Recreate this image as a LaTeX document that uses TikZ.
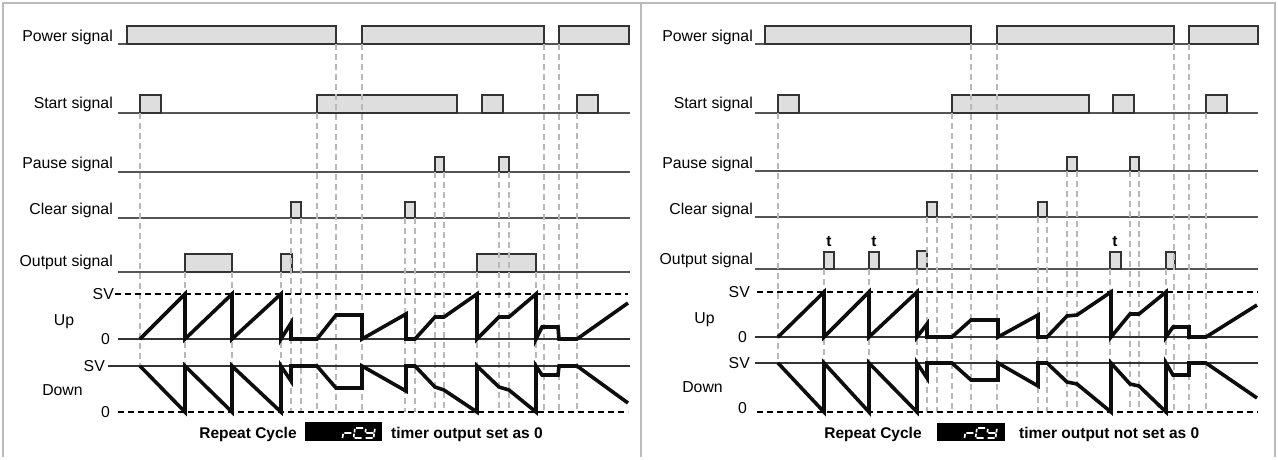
\documentclass[tikz,border=0pt]{standalone}
\usepackage{fontspec}
\setmainfont{Liberation Sans}
\definecolor{sigcol}{HTML}{555555}
\definecolor{pulsefill}{HTML}{DEDEDE}
\definecolor{pulsedraw}{HTML}{333333}
\definecolor{guidecol}{HTML}{B8B8B8}
\definecolor{framecol}{HTML}{BBBBBB}
\newcommand\lblfont{\fontsize{15.8}{18}\selectfont}
\newcommand\boldlbl{\fontsize{15.5}{18}\selectfont\bfseries}
\tikzset{
  sig/.style={draw=sigcol, line width=1.2pt},
  pulse/.style={fill=pulsefill, draw=pulsedraw, line width=1.2pt},
  guide/.style={draw=guidecol, line width=1.4pt, dash pattern=on 6pt off 4pt},
  lvl/.style={draw=black, line width=1.5pt, dash pattern=on 6pt off 4pt},
  zero/.style={draw=black!80, line width=1.1pt},
  wave/.style={draw=black!95, line width=3.6pt},
  lbl/.style={anchor=base east, font=\lblfont, inner sep=0pt},
  clbl/.style={anchor=base, font=\lblfont, inner sep=0pt},
  blbl/.style={anchor=base, font=\boldlbl, inner sep=0pt},
  seg/.style={draw=white, line width=1.7pt},
}
\newcommand\rcyglyphs{%
  \draw[seg] (1,5)--(8,5) (0,5.8)--(0,10);
  \draw[seg] (12,0)--(19,0) (11,0.8)--(11,4.4) (11,5.6)--(11,9.2) (12,10)--(19,10);
  \draw[seg] (22,0.8)--(22,4.4) (31,0.8)--(31,4.4) (23,5)--(30,5) (31,5.6)--(31,9.2) (23,10)--(30,10);
}
\begin{document}
\begin{tikzpicture}[x=1pt, y=-1pt]
\useasboundingbox (0,0) rectangle (1278,459);
% frame
\draw[framecol, line width=1.4pt] (3,457) -- (3,3) -- (1275,3) -- (1275,457);
\draw[framecol, line width=1.4pt] (641,3) -- (641,457);

% ================= LEFT PANEL =================
\node[lbl] (lpow) at (113,41.5) {Power signal};
\node[lbl] (lsta) at (113,108.5) {Start signal};
\node[lbl] (lpau) at (113,168) {Pause signal};
\node[lbl] (lclr) at (113,214.5) {Clear signal};
\node[lbl] (lout) at (113,266.5) {Output signal};

\draw[sig] (118,44) -- (629,44);
\draw[sig] (118,113) -- (630,113);
\draw[sig] (118,172) -- (630,172);
\draw[sig] (118,218) -- (630,218);
\draw[sig] (118,272) -- (630,272);

\draw[pulse] (127,44) rectangle (336,26);
\draw[pulse] (362,44) rectangle (544,26);
\draw[pulse] (559,44) rectangle (629,26);
\draw[pulse] (140,113) rectangle (161,95);
\draw[pulse] (317,113) rectangle (457,95);
\draw[pulse] (482,113) rectangle (503,95);
\draw[pulse] (577,113) rectangle (598,95);
\draw[pulse] (435,172) rectangle (444,157);
\draw[pulse] (499,172) rectangle (509,157);
\draw[pulse] (291,218) rectangle (301,202);
\draw[pulse] (405,218) rectangle (415,202);
\draw[pulse] (185,272) rectangle (232,254);
\draw[pulse] (281,272) rectangle (292,254);
\draw[pulse] (477,272) rectangle (536,254);

% guides
\draw[guide] (140,113) -- (140,366);
\foreach \x in {317,577} \draw[guide] (\x,113) -- (\x,412);
\foreach \x in {336,362,544,559} \draw[guide] (\x,44) -- (\x,412);
\foreach \x in {435,444,499,509} \draw[guide] (\x,172) -- (\x,412);
\foreach \x in {291,301,405,415} \draw[guide] (\x,218) -- (\x,412);
\foreach \x in {185,232,281,477,536} \draw[guide] (\x,272) -- (\x,412);

% levels
\node[lbl] (lsvu) at (114,299.5) {SV};
\node[lbl] (lzu) at (110,344.5) {0};
\node[clbl] (lup) at (64,325) {Up};
\node[lbl] (lsvd) at (105,371.5) {SV};
\node[lbl] (lzd) at (110,417) {0};
\node[clbl] (ldown) at (62.5,395) {Down};
\draw[lvl] (115,294) -- (628,294);
\draw[zero] (118,339) -- (630,339);
\draw[zero] (108,366) -- (630,366);
\draw[lvl] (118,412) -- (628,412);

% waveforms
\draw[wave] (140,339) -- (185,294) -- (185,339) -- (232,294) -- (232,339) -- (281,294) -- (281,339)
  -- (291,323) -- (291,339) -- (317,339) -- (336,315) -- (362,315) -- (362,339) -- (406,314)
  -- (406,339) -- (415,339) -- (435,317) -- (444,317) -- (477,294) -- (477,339) -- (499,317)
  -- (509,317) -- (536,294) -- (536,339) -- (542,327) -- (558,327) -- (559,339) -- (577,339) -- (628,303);
\draw[wave] (140,366) -- (185,412) -- (185,366) -- (232,412) -- (232,366) -- (281,412) -- (281,366)
  -- (291,381) -- (291,366) -- (317,366) -- (336,388) -- (362,388) -- (362,366) -- (406,391)
  -- (406,366) -- (415,366) -- (435,387) -- (444,390) -- (477,412) -- (477,366) -- (499,387)
  -- (509,390) -- (536,412) -- (536,366) -- (542,375) -- (558,375) -- (559,366) -- (577,366) -- (628,403);

% caption
\node[blbl] (lrep) at (248,438) {Repeat Cycle};
\fill[black] (305,422) rectangle (382,441);
\begin{scope}[shift={(344,428)}, xslant=0.15]\rcyglyphs\end{scope}
\node[blbl, anchor=base west] (ltxt) at (391,438) {timer output set as 0};

% ================= RIGHT PANEL =================
\node[lbl] (rpow) at (753,41.5) {Power signal};
\node[lbl] (rsta) at (753,108.5) {Start signal};
\node[lbl] (rpau) at (753,168) {Pause signal};
\node[lbl] (rclr) at (753,214) {Clear signal};
\node[lbl] (rout) at (753,264.5) {Output signal};

\draw[sig] (755,44) -- (1258,44);
\draw[sig] (755,113) -- (1258,113);
\draw[sig] (755,171) -- (1258,171);
\draw[sig] (755,217) -- (1258,217);
\draw[sig] (755,269) -- (1258,269);

\draw[pulse] (765,44) rectangle (971,26);
\draw[pulse] (997,44) rectangle (1174,26);
\draw[pulse] (1189,44) rectangle (1258,26);
\draw[pulse] (778,113) rectangle (799,95);
\draw[pulse] (952,113) rectangle (1089,95);
\draw[pulse] (1113,113) rectangle (1134,95);
\draw[pulse] (1206,113) rectangle (1227,95);
\draw[pulse] (1067,171) rectangle (1077,157);
\draw[pulse] (1130,171) rectangle (1139,157);
\draw[pulse] (927,217) rectangle (937,202);
\draw[pulse] (1038,217) rectangle (1047,202);
\draw[pulse] (824,269) rectangle (834,252);
\draw[pulse] (869,269) rectangle (879,252);
\draw[pulse] (917,269) rectangle (927,251);
\draw[pulse] (1110,269) rectangle (1121,252);
\draw[pulse] (1166,269) rectangle (1175,252);

\node[blbl] (rt1) at (829,246) {t};
\node[blbl] (rt2) at (874,246) {t};
\node[blbl] (rt3) at (1115,246) {t};

% guides
\draw[guide] (778,113) -- (778,363);
\foreach \x in {952,1206} \draw[guide] (\x,113) -- (\x,412);
\foreach \x in {971,997,1174,1189} \draw[guide] (\x,44) -- (\x,412);
\foreach \x in {1067,1077,1130,1139} \draw[guide] (\x,171) -- (\x,412);
\foreach \x in {927,937,1038,1047} \draw[guide] (\x,217) -- (\x,412);
\foreach \x in {824,869,917,1110,1166} \draw[guide] (\x,269) -- (\x,412);

% levels
\node[lbl] (rsvu) at (750,297.5) {SV};
\node[lbl] (rzu) at (747,342.5) {0};
\node[clbl] (rup) at (704.5,323) {Up};
\node[lbl] (rsvd) at (750,368.5) {SV};
\node[lbl] (rzd) at (747,413) {0};
\node[clbl] (rdown) at (702.5,392) {Down};
\draw[lvl] (757,292) -- (1258,292);
\draw[zero] (755,337) -- (1258,337);
\draw[zero] (755,363) -- (1258,363);
\draw[lvl] (757,412) -- (1258,412);

% waveforms
\draw[wave] (778,337) -- (824,292) -- (824,337) -- (869,292) -- (869,337) -- (917,292) -- (917,337)
  -- (927,324) -- (927,337) -- (952,337) -- (971,320) -- (998,320) -- (998,337) -- (1038,315)
  -- (1038,337) -- (1047,337) -- (1067,316) -- (1077,315) -- (1111,292) -- (1111,337) -- (1130,314)
  -- (1139,314) -- (1166,292) -- (1166,337) -- (1173,327) -- (1189,327) -- (1189,337) -- (1206,337) -- (1257,305);
\draw[wave] (778,363) -- (824,412) -- (824,363) -- (869,412) -- (869,363) -- (917,412) -- (917,363)
  -- (927,378) -- (927,363) -- (952,363) -- (971,380) -- (998,380) -- (998,363) -- (1038,386)
  -- (1038,363) -- (1047,363) -- (1067,382) -- (1077,384) -- (1111,412) -- (1111,363) -- (1130,384)
  -- (1139,386) -- (1166,412) -- (1166,363) -- (1173,375) -- (1189,375) -- (1189,363) -- (1206,363) -- (1257,398);

% caption
\node[blbl] (rrep) at (873,438) {Repeat Cycle};
\fill[black] (937,423) rectangle (1005,441);
\begin{scope}[shift={(966,428)}, xslant=0.15]\rcyglyphs\end{scope}
\node[blbl, anchor=base west] (rtxt) at (1019,438) {timer output not set as 0};
\end{tikzpicture}
\end{document}
